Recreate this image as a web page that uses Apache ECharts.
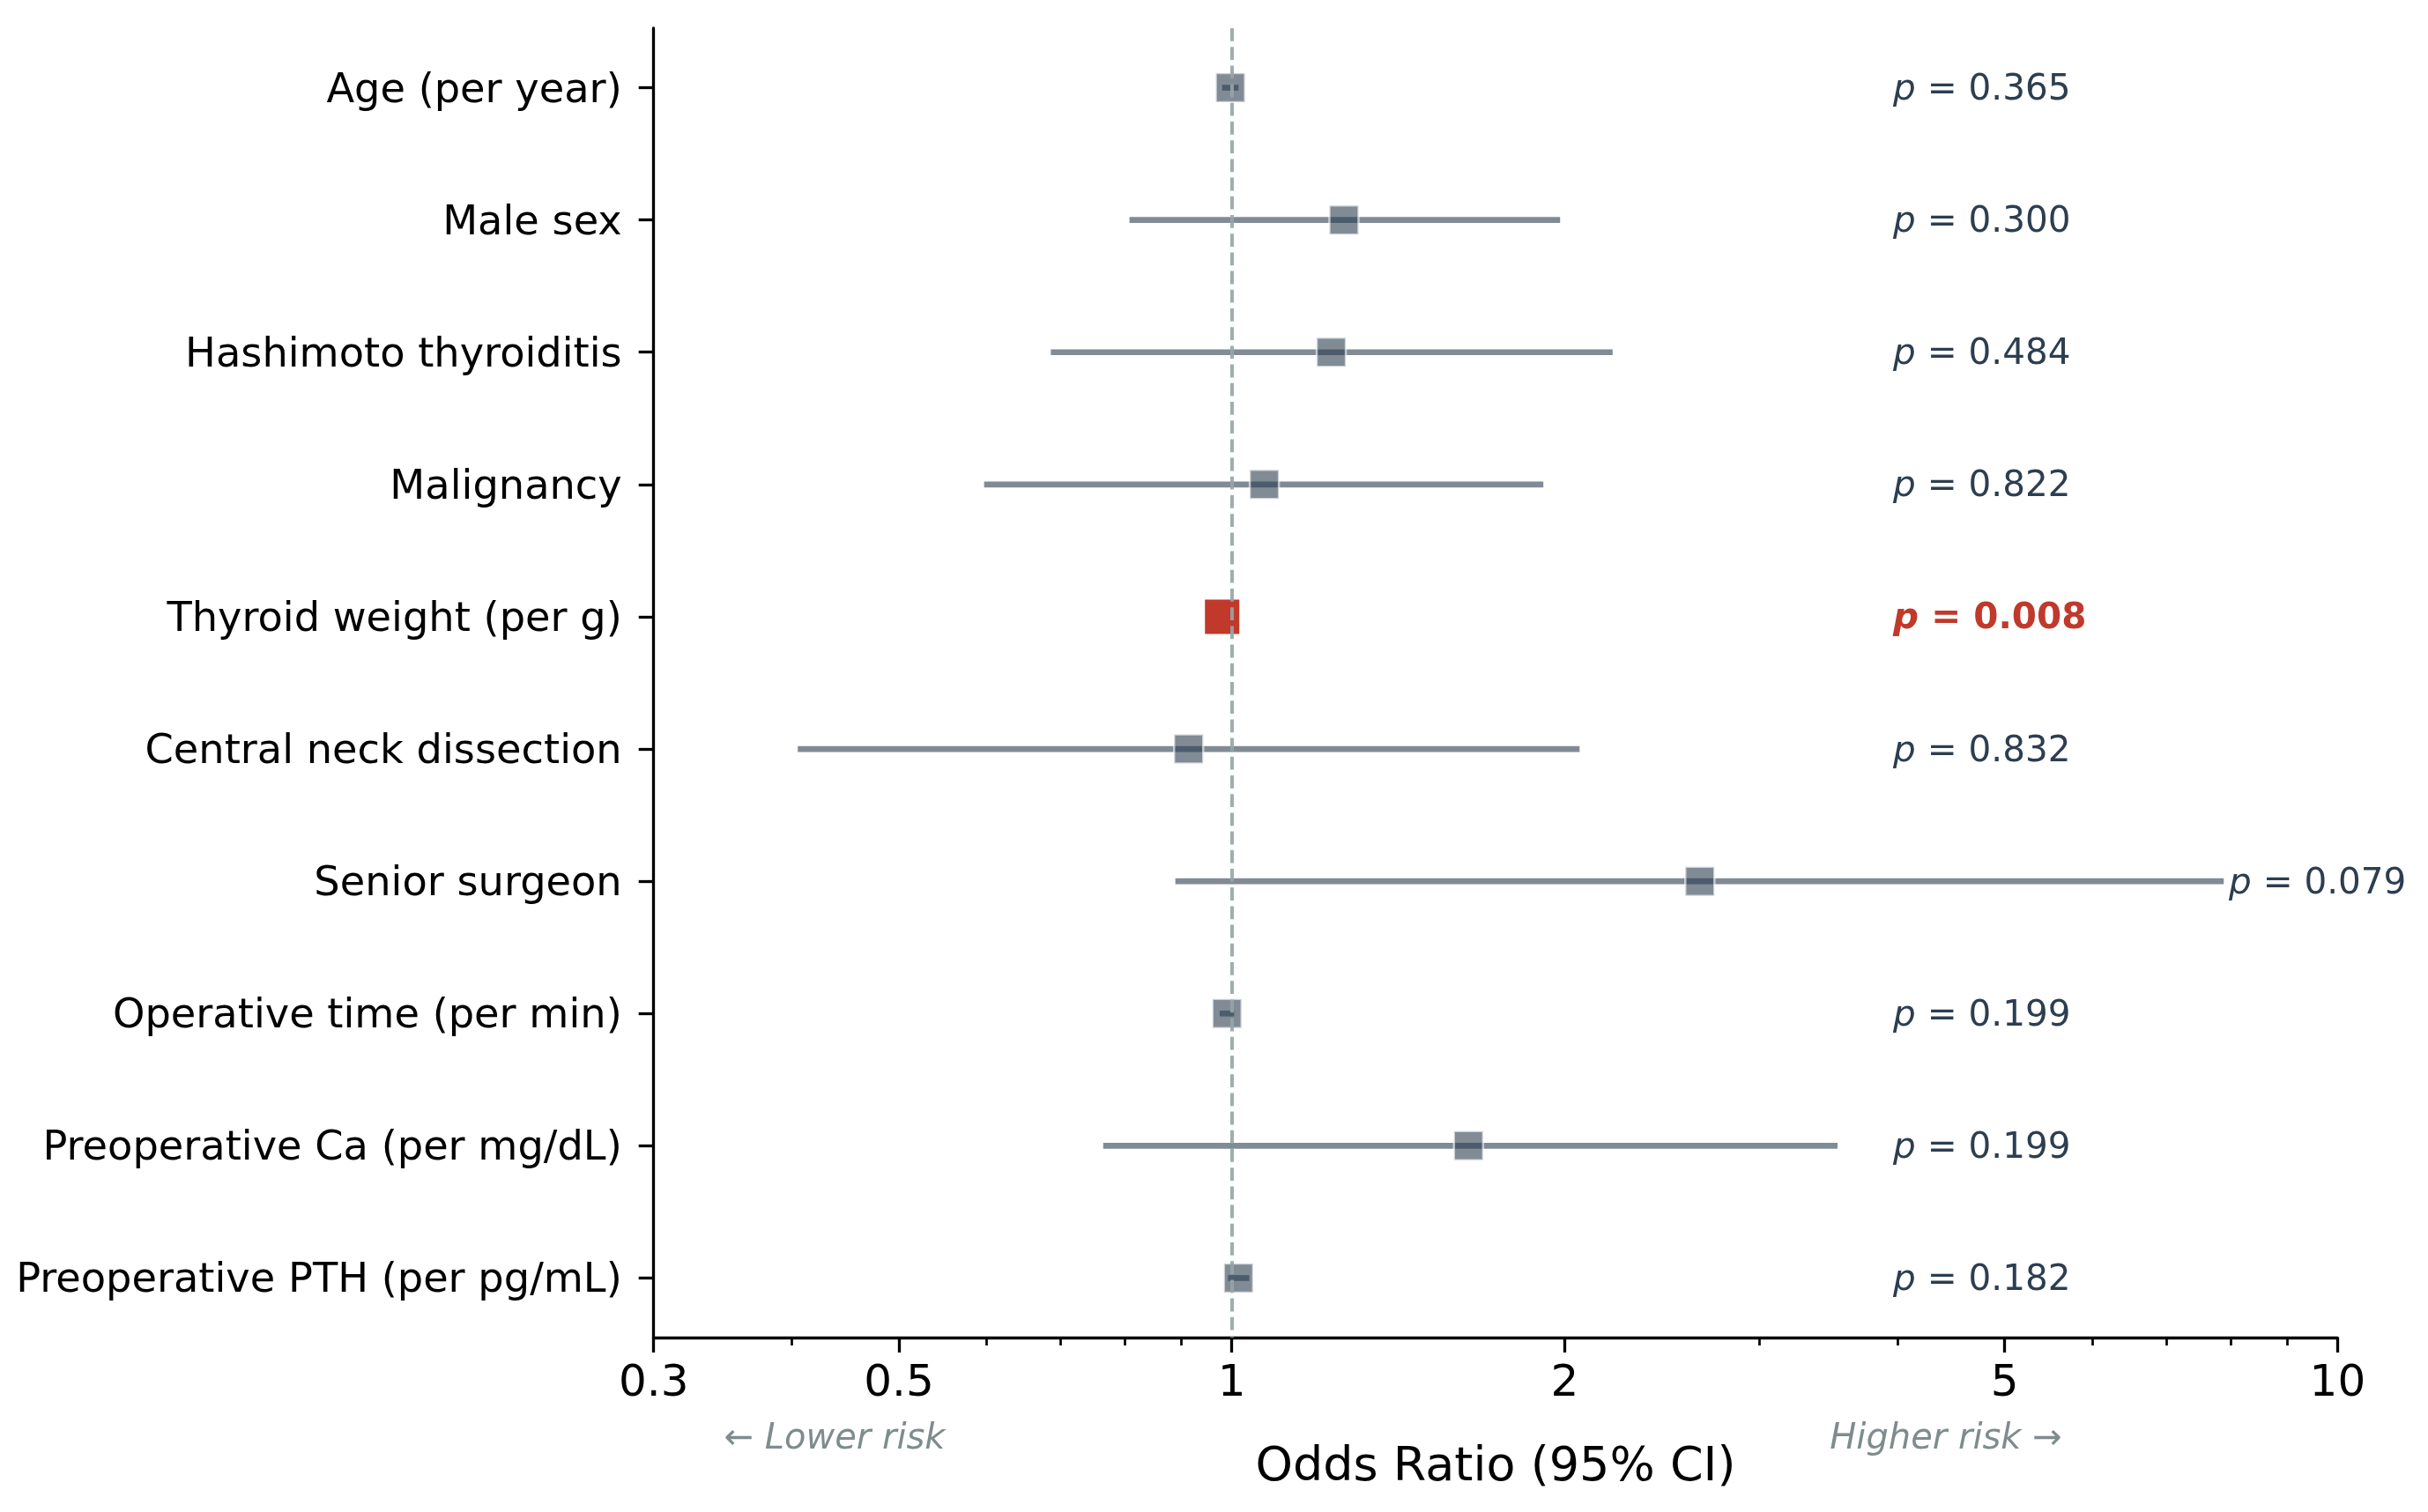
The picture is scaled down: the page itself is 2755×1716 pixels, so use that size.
<!DOCTYPE html>
<html>
<head>
<meta charset="utf-8">
<script src="https://cdn.jsdelivr.net/npm/echarts@6/dist/echarts.min.js"></script>
<style>
html,body{margin:0;padding:0;background:#fff;}
#chart{width:2755px;height:1716px;}
</style>
</head>
<body>
<div id="chart"></div>
<script>
// ---- data ----
const categories = [
  'Age (per year)',
  'Male sex',
  'Hashimoto thyroiditis',
  'Malignancy',
  'Thyroid weight (per g)',
  'Central neck dissection',
  'Senior surgeon',
  'Operative time (per min)',
  'Preoperative Ca (per mg/dL)',
  'Preoperative PTH (per pg/mL)'
];
const oddsRatios = [0.997, 1.263, 1.230, 1.070, 0.980, 0.914, 2.650, 0.990, 1.637, 1.014];
const ciLower    = [0.980, 0.808, 0.686, 0.597, 0.966, 0.405, 0.889, 0.975, 0.765, 0.992];
const ciUpper    = [1.014, 1.981, 2.210, 1.913, 0.995, 2.063, 7.890, 1.005, 3.530, 1.037];
const pValues    = [0.365, 0.300, 0.484, 0.822, 0.008, 0.832, 0.079, 0.199, 0.199, 0.182];
const xTickValues  = [0.3, 0.5, 1, 2, 5, 10];
const xMinorTicks  = [0.4, 0.6, 0.7, 0.8, 0.9, 3, 4, 6, 7, 8, 9];
const xMin = 0.3, xMax = 10;
const pLabelX = 4;
const refValue = 1;

// ---- styles ----
const FONT = 'DejaVu Sans';
const GREY = '#2c3e50';
const RED = '#c0392b';

const idx = categories.map((_, i) => i);
const greyPts = [], redPts = [];
idx.forEach(i => {
  const pt = [oddsRatios[i], i];
  if (pValues[i] < 0.05) redPts.push(pt); else greyPts.push(pt);
});
const ciData = idx.map(i => [ciLower[i], ciUpper[i], i]);
const pData = idx.map(i => [Math.max(pLabelX, ciUpper[i] * 1.02), i]);

const lg = v => Math.log10(v);
const majorLog = xTickValues.map(lg);
const minorLog = xMinorTicks.map(lg);

const chart = echarts.init(document.getElementById('chart'), null, {renderer: 'canvas'});

const option = {
  backgroundColor: '#ffffff',
  animation: false,
  grid: {left: 741.7, right: 102.6, top: 32, bottom: 198, containLabel: false, outerBoundsMode: 'none'},
  xAxis: [
    { // data axis (log scale)
      type: 'log', logBase: 10, min: xMin, max: xMax, position: 'bottom', show: false,
      axisLine: {onZero: false},
      splitLine: {show: false}
    },
    { // visible major ticks & labels
      type: 'value', min: lg(xMin), max: lg(xMax), position: 'bottom',
      axisLine: {show: true, onZero: false, lineStyle: {color: '#000', width: 3.3}},
      axisTick: {show: true, customValues: majorLog, length: 17, lineStyle: {color: '#000', width: 3.3}},
      axisLabel: {
        show: true, customValues: majorLog, margin: 28,
        fontFamily: FONT, fontSize: 50, color: '#000',
        formatter: v => {
          const k = majorLog.findIndex(t => Math.abs(t - v) < 1e-9);
          return k >= 0 ? String(xTickValues[k]) : '';
        }
      },
      splitLine: {show: false},
      name: 'Odds Ratio (95% CI)', nameLocation: 'middle', nameGap: 121,
      nameTextStyle: {fontFamily: FONT, fontSize: 54, color: '#000'}
    },
    { // minor ticks
      type: 'value', min: lg(xMin), max: lg(xMax), position: 'bottom',
      axisLine: {show: false, onZero: false},
      axisTick: {show: true, customValues: minorLog, length: 9, lineStyle: {color: '#000', width: 2.7}},
      axisLabel: {show: false},
      splitLine: {show: false}
    }
  ],
  yAxis: {
    type: 'value', min: -0.45, max: 9.45, inverse: true,
    axisLine: {show: true, onZero: false, lineStyle: {color: '#000', width: 3.3}},
    axisTick: {show: true, customValues: idx, length: 17, lineStyle: {color: '#000', width: 3.3}},
    axisLabel: {
      show: true, customValues: idx, margin: 36,
      fontFamily: FONT, fontSize: 46.3, color: '#000',
      formatter: v => '{c|' + categories[Math.round(v)] + '}',
      rich: {
        c: {fontFamily: FONT, fontSize: 46.3, color: '#000', lineHeight: 54, verticalAlign: 'bottom'}
      }
    },
    splitLine: {show: false}
  },
  series: [
    {
      type: 'custom', name: 'CI', xAxisIndex: 0, yAxisIndex: 0, z: 2,
      data: ciData,
      encode: {x: [0, 1], y: 2},
      renderItem: (params, api) => {
        const i = api.value(2);
        const a = api.coord([api.value(0), i]);
        const b = api.coord([api.value(1), i]);
        return {
          type: 'line',
          shape: {x1: a[0], y1: a[1], x2: b[0], y2: b[1]},
          style: {stroke: 'rgba(44,62,80,0.6)', lineWidth: 6.7, lineCap: 'butt'}
        };
      },
      markLine: {
        silent: true, symbol: ['none', 'none'], label: {show: false},
        lineStyle: {color: '#95a5a6', width: 4, type: [14.8, 6.4], opacity: 0.9},
        data: [{xAxis: refValue}]
      }
    },
    {
      type: 'scatter', name: 'OR', xAxisIndex: 0, yAxisIndex: 0, z: 3,
      data: greyPts, symbol: 'rect', symbolSize: 33,
      itemStyle: {color: GREY, opacity: 0.6, borderColor: '#ffffff', borderWidth: 2.5}
    },
    {
      type: 'scatter', name: 'OR (p<0.05)', xAxisIndex: 0, yAxisIndex: 0, z: 4,
      data: redPts, symbol: 'rect', symbolSize: 39,
      itemStyle: {color: RED, opacity: 1}
    },
    {
      type: 'custom', name: 'p', xAxisIndex: 0, yAxisIndex: 0, z: 5, clip: false,
      data: pData,
      encode: {x: 0, y: 1},
      renderItem: (params, api) => {
        const i = api.value(1);
        const pt = api.coord([api.value(0), i]);
        const k = params.dataIndex;
        const sig = pValues[k] < 0.05;
        const color = sig ? RED : GREY;
        const weight = sig ? 'bold' : 'normal';
        return {
          type: 'text', x: pt[0] - 5, y: pt[1] + 3,
          style: {
            text: '{it|p}{rest| = ' + pValues[k].toFixed(3) + '}',
            fill: color, fontFamily: FONT, fontSize: 40.5, fontWeight: weight,
            align: 'left', verticalAlign: 'middle',
            rich: {
              it: {fontStyle: 'italic', fontFamily: FONT, fontSize: 40.5, fontWeight: weight, fill: color},
              rest: {fontFamily: FONT, fontSize: 40.5, fontWeight: weight, fill: color}
            }
          }
        };
      }
    }
  ],
  graphic: [
    {type: 'text', x: 947, y: 1634, silent: true,
     style: {text: '\u2190 Lower risk', fill: '#7f8c8d', fontFamily: FONT, fontSize: 40, fontStyle: 'italic', align: 'center', verticalAlign: 'middle'}},
    {type: 'text', x: 2208, y: 1634, silent: true,
     style: {text: 'Higher risk \u2192', fill: '#7f8c8d', fontFamily: FONT, fontSize: 40, fontStyle: 'italic', align: 'center', verticalAlign: 'middle'}}
  ]
};
chart.setOption(option);
</script>
</body>
</html>
